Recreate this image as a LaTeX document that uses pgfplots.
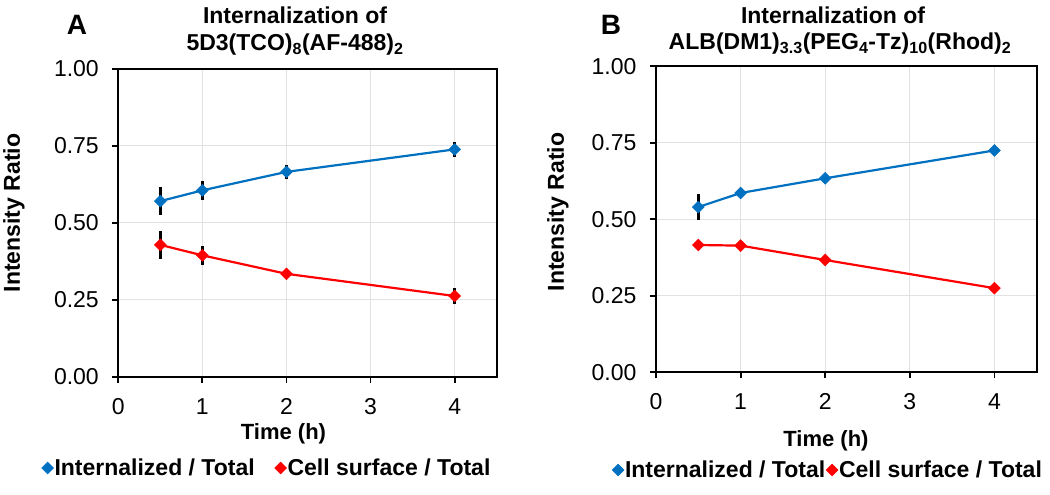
\documentclass[border=0pt]{standalone}
\usepackage{fontspec}
\setmainfont{Liberation Sans}
\usepackage{pgfplots}
\pgfplotsset{compat=1.18}
\definecolor{xblue}{RGB}{0,112,192}
\definecolor{xred}{RGB}{255,0,0}
\definecolor{xgrid}{RGB}{226,226,226}

\pgfplotstableread{
x y e
0.5 0.570 0.045
1 0.605 0.031
2 0.665 0.022
4 0.738 0.025
}\Ablue
\pgfplotstableread{
x y e
0.5 0.428 0.045
1 0.394 0.030
2 0.334 0.010
4 0.262 0.027
}\Ared
\pgfplotstableread{
x y e
0.5 0.540 0.042
1 0.586 0.010
2 0.634 0.010
4 0.725 0.010
}\Bblue
\pgfplotstableread{
x y e
0.5 0.416 0.008
1 0.414 0.008
2 0.367 0.008
4 0.275 0.008
}\Bred

\pgfplotsset{
  panel/.style={
    scale only axis,
    xmin=0, xmax=4.5, ymin=0, ymax=1,
    xtick={0,1,2,3,4}, ytick={0,0.25,0.5,0.75,1},
    tick pos=left, tick align=outside, major tick length=6pt,
    grid=major, grid style={xgrid, line width=1pt},
    axis line style={black, line width=1.8pt},
    every tick/.style={black, line width=1.8pt},
    tick label style={font=\fontsize{23}{27}\selectfont},
    /pgf/number format/assume math mode=true,
    xticklabel style={yshift=-12pt},
    yticklabel style={xshift=-10pt, /pgf/number format/.cd, fixed, fixed zerofill, precision=2},
    legend columns=2,
    legend image code/.code={\draw[only marks, ##1] plot coordinates {(5.5pt,0pt)};},
    legend style={draw=none, fill=none, inner sep=0pt,
      font=\bfseries\fontsize{23}{27}\selectfont,
      nodes={inner xsep=1pt, inner ysep=0pt}},
  },
  blueser/.style={xblue, line width=2.2pt, mark=square*, mark size=4.2pt,
    mark options={rotate=45, fill=xblue, draw=xblue, line width=0.5pt}},
  redser/.style={xred, line width=2.2pt, mark=square*, mark size=4.2pt,
    mark options={rotate=45, fill=xred, draw=xred, line width=0.5pt}},
  ebars/.style={error bars/.cd, y dir=both, y explicit, error mark=none,
    error bar style={black, line width=2.5pt}},
}

\begin{document}
\begin{tikzpicture}[x=1pt,y=1pt]
\useasboundingbox (0,0) rectangle (1050,495);

% Panel A
\begin{axis}[panel, anchor=south west, at={(118.3pt,118.3pt)},
  width=378.4pt, height=308pt,
  legend style={at={(axis description cs:0.3917,-0.2964)}, anchor=center,
    /tikz/every even column/.append style={column sep=19pt}}]
\addplot[blueser, ebars] table[x=x, y=y, y error=e] {\Ablue};
\addlegendentry{Internalized / Total}
\addplot[redser, ebars] table[x=x, y=y, y error=e] {\Ared};
\addlegendentry{Cell surface / Total}
\end{axis}

% Panel B
\begin{axis}[panel, anchor=south west, at={(656pt,122.7pt)},
  width=380.7pt, height=306pt,
  legend style={at={(axis description cs:0.4505,-0.3193)}, anchor=center,
    /tikz/every even column/.append style={column sep=0pt}}]
\addplot[blueser, ebars] table[x=x, y=y, y error=e] {\Bblue};
\addlegendentry{Internalized / Total}
\addplot[redser, ebars] table[x=x, y=y, y error=e] {\Bred};
\addlegendentry{Cell surface / Total}
\end{axis}

% Titles and labels
\begin{scope}[every node/.style={inner sep=0pt}]
\node[anchor=base, font=\bfseries\fontsize{28}{32}\selectfont] at (77,460) {A};
\node[anchor=base, font=\bfseries\fontsize{28}{32}\selectfont] at (611,460) {B};
\node[anchor=base, font=\bfseries\fontsize{23}{27}\selectfont] at (295,471) {Internalization of};
\node[anchor=base, font=\bfseries\fontsize{23}{27}\selectfont] at (295,444) {5D3(TCO)\textsubscript{8}(AF-488)\textsubscript{2}};
\node[anchor=base, font=\bfseries\fontsize{23}{27}\selectfont] at (833,471) {Internalization of};
\node[anchor=base, font=\bfseries\fontsize{23}{27}\selectfont] at (840,445) {ALB(DM1)\textsubscript{3.3}(PEG\textsubscript{4}-Tz)\textsubscript{10}(Rhod)\textsubscript{2}};
\node[anchor=base, font=\bfseries\fontsize{22}{26}\selectfont] at (283.5,55) {Time (h)};
\node[anchor=base, font=\bfseries\fontsize{22}{26}\selectfont] at (826,48) {Time (h)};
\node[rotate=90, font=\bfseries\fontsize{23}{27}\selectfont] at (14,282) {Intensity Ratio};
\node[rotate=90, font=\bfseries\fontsize{23}{27}\selectfont] at (558,283) {Intensity Ratio};
\end{scope}
\end{tikzpicture}
\end{document}
